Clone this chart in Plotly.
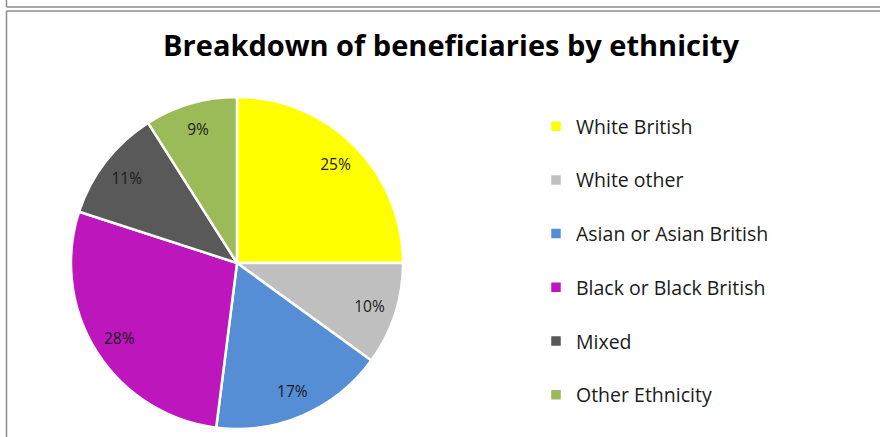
import plotly.graph_objects as go

categories = ["White British", "White other", "Asian or Asian British",
              "Black or Black British", "Mixed", "Other Ethnicity"]
shares = [25, 10, 17, 28, 11, 9]
colors = ["#FFFF00", "#BFBFBF", "#558ED5", "#BC16BC", "#595959", "#9BBB59"]

W, H = 880, 437

def py(p):
    return 1 - p / H

def px(p):
    return p / W

# blank second line spaces legend entries apart (not needed after the last)
legend_labels = [c + "<br> " for c in categories[:-1]] + [categories[-1]]
dom = dict(x=[px(71), px(403)], y=[py(429), py(97)])

fig = go.Figure()
fig.add_trace(go.Pie(
    labels=legend_labels,
    values=shares,
    sort=False,
    direction="clockwise",
    rotation=0,
    marker=dict(colors=colors, line=dict(color="white", width=2.5)),
    textinfo="none",
    hoverinfo="skip",
    domain=dom,
))
# transparent ring carrying the percentage labels further out
fig.add_trace(go.Pie(
    labels=legend_labels,
    values=shares,
    sort=False,
    direction="clockwise",
    rotation=0,
    hole=0.68,
    showlegend=False,
    marker=dict(colors=["rgba(0,0,0,0)"] * len(shares), line=dict(width=0)),
    texttemplate="%{value}%",
    textposition="inside",
    insidetextorientation="horizontal",
    textfont=dict(family="Open Sans", size=15.5, color="#1a1a1a"),
    hoverinfo="skip",
    domain=dom,
))

fig.update_layout(
    width=W, height=H,
    margin=dict(l=0, r=0, t=0, b=0, autoexpand=False),
    paper_bgcolor="white",
    plot_bgcolor="white",
    title=dict(text="<b>Breakdown of beneficiaries by ethnicity</b>",
               x=px(451), xanchor="center", y=py(46), yanchor="middle",
               font=dict(family="Open Sans", size=29, color="#000000")),
    legend=dict(x=px(536), xanchor="left", y=py(107), yanchor="top",
                font=dict(family="Open Sans", size=19.5, color="#1a1a1a"),
                valign="top", itemwidth=30, tracegroupgap=0),
    shapes=[
        dict(type="line", xref="paper", yref="paper", x0=px(6.5), x1=1.01,
             y0=py(7), y1=py(7), line=dict(color="#8c8c8c", width=1.5)),
        dict(type="line", xref="paper", yref="paper", x0=px(6.5), x1=px(6.5),
             y0=py(-1), y1=py(7), line=dict(color="#8c8c8c", width=1.5)),
        dict(type="line", xref="paper", yref="paper", x0=px(6.5), x1=1.01,
             y0=py(11), y1=py(11), line=dict(color="#8c8c8c", width=1.5)),
        dict(type="line", xref="paper", yref="paper", x0=px(6.5), x1=px(6.5),
             y0=py(11), y1=-0.01, line=dict(color="#8c8c8c", width=1.5)),
    ],
)

fig.write_html(
    "out.html",
    config={"displayModeBar": False, "responsive": False},
    post_script="document.body.style.margin='0px';"
                "document.body.style.overflow='hidden';"
                "document.documentElement.style.overflow='hidden';",
)
